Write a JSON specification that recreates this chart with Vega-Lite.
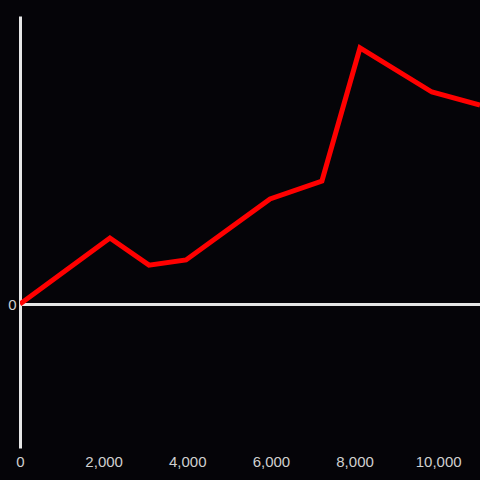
{
  "$schema": "https://vega.github.io/schema/vega-lite/v6.json",
  "width": 460,
  "height": 432,
  "autosize": "none",
  "padding": {"left": 20, "top": 16, "right": 0, "bottom": 32},
  "background": "#050408",
  "config": {"view": {"stroke": null}, "font": "Liberation Sans"},
  "data": {
    "values": [
      {"x": 0, "y": 0},
      {"x": 2150, "y": 22.9},
      {"x": 3085, "y": 13.5},
      {"x": 3970, "y": 15.3},
      {"x": 5980, "y": 36.5},
      {"x": 7220, "y": 42.7},
      {"x": 8130, "y": 88.9},
      {"x": 9850, "y": 73.6},
      {"x": 11000, "y": 69.1}
    ]
  },
  "mark": {"type": "line", "color": "#ff0000", "strokeWidth": 5, "clip": true},
  "encoding": {
    "x": {
      "field": "x",
      "type": "quantitative",
      "scale": {"domain": [0, 11000], "nice": false},
      "axis": {
        "values": [0, 2000, 4000, 6000, 8000, 10000],
        "title": null,
        "domain": false,
        "ticks": false,
        "grid": false,
        "labelFlush": false,
        "labelColor": "#d0d0d0",
        "labelFontSize": 15,
        "labelPadding": 6,
        "format": ",.0f"
      }
    },
    "y": {
      "field": "y",
      "type": "quantitative",
      "scale": {"domain": [-50, 100], "nice": false, "zero": false},
      "axis": {
        "values": [0],
        "title": null,
        "domain": true,
        "domainColor": "#e6e6e6",
        "domainWidth": 3,
        "ticks": false,
        "grid": true,
        "gridColor": "#e6e6e6",
        "gridWidth": 3,
        "gridOpacity": 1,
        "labelColor": "#d0d0d0",
        "labelFontSize": 15,
        "labelPadding": 4
      }
    }
  }
}
